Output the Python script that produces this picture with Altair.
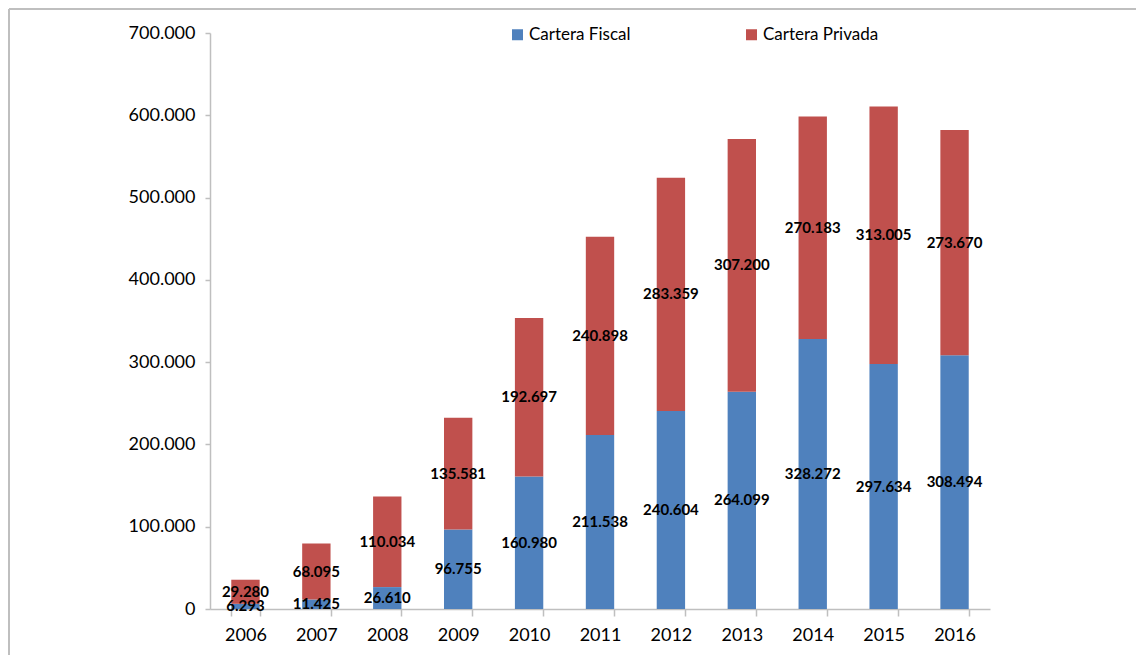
import altair as alt
import pandas as pd

years = ["2006", "2007", "2008", "2009", "2010", "2011", "2012", "2013", "2014", "2015", "2016"]
fiscal = [6293, 11425, 26610, 96755, 160980, 211538, 240604, 264099, 328272, 297634, 308494]
privada = [29280, 68095, 110034, 135581, 192697, 240898, 283359, 307200, 270183, 313005, 273670]
series_names = ["Cartera Fiscal", "Cartera Privada"]
series_colors = ["#4F81BD", "#C0504D"]
y_ticks = [0, 100000, 200000, 300000, 400000, 500000, 600000, 700000]

rows = []
for i, yr in enumerate(years):
    rows.append({"year": yr, "serie": series_names[0], "value": fiscal[i], "ord": 0})
    rows.append({"year": yr, "serie": series_names[1], "value": privada[i], "ord": 1})
df = pd.DataFrame(rows)

FONT = "Lato"
fmt_expr = "replace(format(datum.value, ','), ',', '.')"

base = alt.Chart(df).transform_stack(
    stack="value", groupby=["year"], as_=["y0", "y1"], sort=[alt.SortField("ord", order="ascending")]
).transform_calculate(
    mid="(datum.y0 + datum.y1) / 2",
    label="replace(format(datum.value, ','), ',', '.')",
)

xenc = alt.X(
    "year:N",
    sort=years,
    title=None,
    scale=alt.Scale(paddingInner=0.6, paddingOuter=0.3),
    axis=alt.Axis(
        labelAngle=0, labelFont=FONT, labelFontSize=18, labelColor="#000000",
        domainColor="#BFBFBF", domainWidth=1.5, tickColor="#BFBFBF", tickWidth=1.5,
        tickSize=7, tickBand="extent", labelPadding=10, grid=False,
    ),
)

bars = base.mark_bar().encode(
    x=xenc,
    y=alt.Y(
        "y0:Q",
        title=None,
        scale=alt.Scale(domain=[0, 700000], nice=False),
        axis=alt.Axis(
            values=y_ticks, labelExpr=fmt_expr, labelFont=FONT, labelFontSize=18,
            labelColor="#000000", domainColor="#BFBFBF", domainWidth=1.5,
            tickColor="#BFBFBF", tickWidth=1.5, tickSize=5, labelPadding=10, grid=False,
        ),
    ),
    y2="y1:Q",
    color=alt.Color(
        "serie:N",
        scale=alt.Scale(domain=series_names, range=series_colors),
        title=None,
        legend=alt.Legend(
            orient="none", legendX=299, legendY=-7, direction="horizontal",
            symbolType="square", symbolSize=121, symbolStrokeWidth=0, symbolOpacity=1,
            labelFont=FONT, labelFontSize=17, labelColor="#000000", labelOffset=3,
            columnPadding=112, padding=0,
        ),
    ),
)

labels = base.mark_text(
    font=FONT, fontSize=15, fontWeight="bold", color="#000000", baseline="middle", align="center"
).encode(
    x=alt.X("year:N", sort=years),
    y=alt.Y("mid:Q"),
    text="label:N",
)

border = alt.Chart(pd.DataFrame({"k": [0]})).mark_rule(color="#BFBFBF", strokeWidth=2).encode(
    x=alt.value(-201), x2=alt.value(940), y=alt.value(-24), y2=alt.value(-24)
)
border_left = alt.Chart(pd.DataFrame({"k": [0]})).mark_rule(color="#BFBFBF", strokeWidth=2).encode(
    x=alt.value(-201), x2=alt.value(-201), y=alt.value(-24), y2=alt.value(660)
)

chart = alt.layer(bars, labels, border, border_left).properties(
    width=780,
    height=576,
    autosize=alt.AutoSizeParams(type="none"),
    padding={"left": 202, "top": 25, "right": 146, "bottom": 46},
).configure_view(stroke=None)

chart.save("out.html", embed_options={"renderer": "svg", "actions": False})
